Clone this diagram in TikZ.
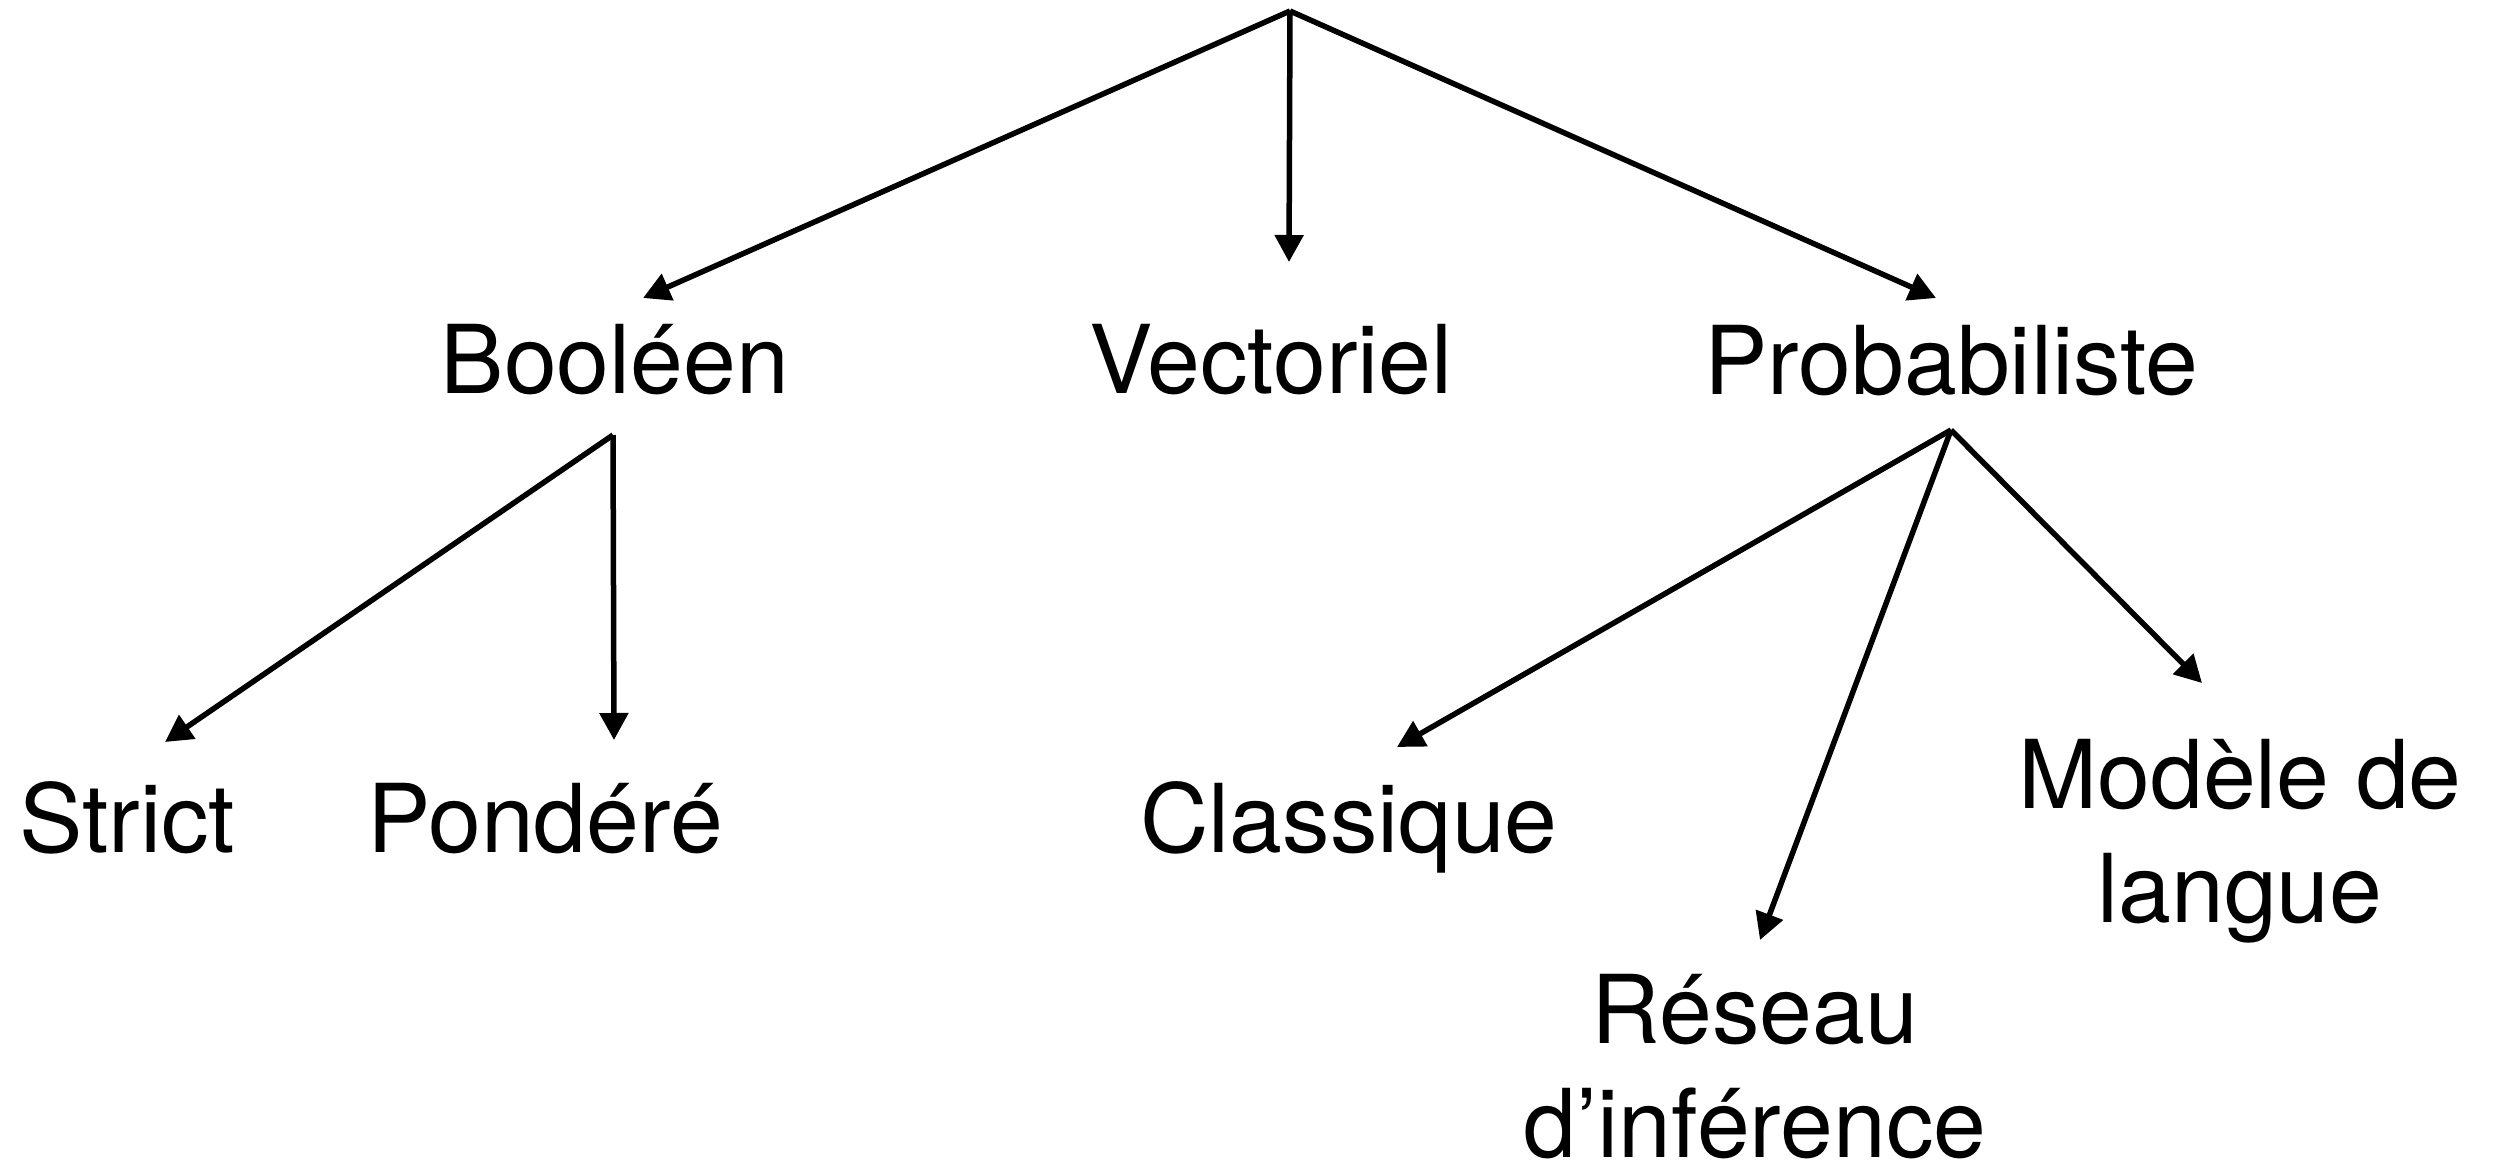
\documentclass[tikz,border=0pt]{standalone}
\usepackage{fontspec}
\setmainfont{TeX Gyre Heros}
\usetikzlibrary{arrows.meta}
\begin{document}
\begin{tikzpicture}[x=1pt,y=-1pt,
  lbl/.style={inner sep=0pt, anchor=base, align=center, font=\fontsize{95}{114}\selectfont},
  conn/.style={line width=5.5pt, -{Triangle[length=27pt,width=28pt]}}]
\useasboundingbox (0,0) rectangle (2503,1162);
% labels (multi-line nodes are placed by the baseline of their last line)
\node[lbl] (bool) at (615,393) {Booléen};
\node[lbl] (vect) at (1271,393) {Vectoriel};
\node[lbl] (prob) at (1951,394) {Probabiliste};
\node[lbl] (strict) at (127,852) {Strict};
\node[lbl] (pond) at (545,852) {Pondéré};
\node[lbl] (class) at (1349,852) {Classique};
\node[lbl] (model) at (2240,922) {Modèle de\\langue};
\node[lbl] (reseau) at (1755,1157) {Réseau\\d’inférence};
% branch points and arrow ends
\coordinate (root) at (1290,11);
\coordinate (boolT) at (643,298);
\coordinate (vectT) at (1289,262);
\coordinate (probT) at (1936,298);
\coordinate (boolB) at (613,435);
\coordinate (strictT) at (165,742);
\coordinate (pondT) at (614,740);
\coordinate (probB) at (1951,430);
\coordinate (classT) at (1397,747);
\coordinate (reseauT) at (1760,940);
\coordinate (modelT) at (2202,683);
% connectors
\draw[conn] (root) -- (boolT);
\draw[conn] (root) -- (vectT);
\draw[conn] (root) -- (probT);
\draw[conn] (boolB) -- (strictT);
\draw[conn] (boolB) -- (pondT);
\draw[conn] (probB) -- (classT);
\draw[conn] (probB) -- (reseauT);
\draw[conn] (probB) -- (modelT);
\end{tikzpicture}
\end{document}
